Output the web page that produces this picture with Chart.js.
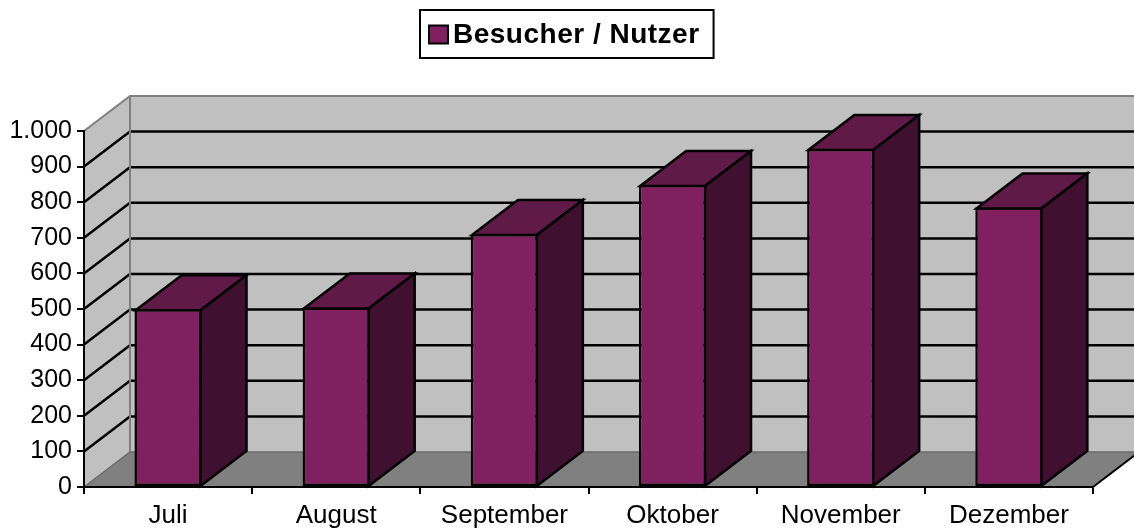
<!DOCTYPE html>
<html lang="de">
<head>
<meta charset="utf-8">
<title>Besucher / Nutzer</title>
<script src="https://cdn.jsdelivr.net/npm/chart.js@4/dist/chart.umd.min.js"></script>
<style>
  html, body { margin: 0; padding: 0; background: #fff; }
</style>
</head>
<body>
<canvas id="besucherChart" width="1134" height="531"></canvas>
<script>
const monate = ['Juli', 'August', 'September', 'Oktober', 'November', 'Dezember']
const besucher = [500, 505, 711, 849, 950, 786]
const serienName = 'Besucher / Nutzer'
const yMin = 0
const yMax = 1000
const yStep = 100

// 3D-Versatz der Rueckwand
const tiefeX = 46
const tiefeY = -35
const schrift = '"Liberation Sans", Arial, sans-serif'

const formatZahl = (v) => String(v).replace(/\B(?=(\d{3})+(?!\d))/g, '.')

const flaeche = (ctx, punkte, fill, stroke, lw) => {
  ctx.beginPath()
  punkte.forEach(([px, py], i) => i === 0 ? ctx.moveTo(px, py) : ctx.lineTo(px, py))
  ctx.closePath()
  if (fill) {
    ctx.fillStyle = fill
    ctx.fill()
  }
  if (stroke) {
    ctx.strokeStyle = stroke
    ctx.lineWidth = lw
    ctx.stroke()
  }
}

const linie = (ctx, punkte, farbe, lw) => {
  ctx.beginPath()
  punkte.forEach(([px, py], i) => i === 0 ? ctx.moveTo(px, py) : ctx.lineTo(px, py))
  ctx.strokeStyle = farbe
  ctx.lineWidth = lw
  ctx.stroke()
}

const waendePlugin = {
  id: 'waende',
  beforeDraw (chart) {
    const { ctx, chartArea: a, scales: { y } } = chart
    const dx = tiefeX
    const dy = tiefeY
    ctx.save()
    // Rueckwand und Seitenwand
    flaeche(ctx, [[a.left + dx, a.top + dy], [a.right + dx, a.top + dy], [a.right + dx, a.bottom + dy], [a.left + dx, a.bottom + dy]], '#c0c0c0')
    flaeche(ctx, [[a.left, a.bottom], [a.left, a.top], [a.left + dx, a.top + dy], [a.left + dx, a.bottom + dy]], '#c0c0c0')
    // Boden
    flaeche(ctx, [[a.left, a.bottom], [a.right, a.bottom], [a.right + dx, a.bottom + dy], [a.left + dx, a.bottom + dy]], '#808080')
    // Gitternetz
    y.ticks.forEach(t => {
      if (t.value === yMin || t.value === yMax) return
      const py = y.getPixelForValue(t.value)
      linie(ctx, [[a.left, py], [a.left + dx, py + dy], [a.right + dx, py + dy]], '#000', 2.5)
    })
    // Kanten
    linie(ctx, [[a.left, a.top], [a.left + dx, a.top + dy], [a.right + dx, a.top + dy]], '#808080', 2)
    linie(ctx, [[a.left + dx, a.top + dy], [a.left + dx, a.bottom + dy]], '#808080', 2)
    linie(ctx, [[a.left, a.bottom], [a.left + dx, a.bottom + dy], [a.right + dx, a.bottom + dy]], '#6a6a6a', 1.5)
    linie(ctx, [[a.right, a.bottom], [a.right + dx, a.bottom + dy]], '#000', 2)
    ctx.restore()
  }
}

const quaderPlugin = {
  id: 'quader',
  afterDatasetsDraw (chart) {
    const { ctx } = chart
    ctx.save()
    ctx.lineJoin = 'miter'
    chart.getDatasetMeta(0).data.forEach(bar => {
      const { x, y, base, width } = bar.getProps(['x', 'y', 'base', 'width'], true)
      const l = x - width / 2 + 1.2
      const r = x + width / 2 - 1.2
      const top = y + 1.2
      flaeche(ctx, [[l, top], [r, top], [r + tiefeX, top + tiefeY], [l + tiefeX, top + tiefeY]], '#601a48', '#000', 2.5)
      flaeche(ctx, [[r, top], [r + tiefeX, top + tiefeY], [r + tiefeX, base + tiefeY], [r, base]], '#401030', '#000', 2.5)
    })
    ctx.restore()
  }
}

const legendePlugin = {
  id: 'legende',
  afterDraw (chart) {
    const { ctx, width } = chart
    const ds = chart.data.datasets[0]
    ctx.save()
    ctx.font = 'bold 28px ' + schrift
    ctx.letterSpacing = '0.5px'
    const textBreite = ctx.measureText(ds.label).width
    const kasten = 19
    const gesamt = 9 + kasten + 5 + textBreite + 14
    const links = Math.round(width / 2 - gesamt / 2)
    const oben = 10
    const hoehe = 48
    const mitte = oben + hoehe / 2
    ctx.fillStyle = '#fff'
    ctx.fillRect(links, oben, gesamt, hoehe)
    ctx.strokeStyle = '#000'
    ctx.lineWidth = 2
    ctx.strokeRect(links, oben, gesamt, hoehe)
    ctx.fillStyle = ds.backgroundColor
    ctx.fillRect(links + 9, mitte - 8.5, kasten, kasten - 1)
    ctx.strokeRect(links + 9, mitte - 8.5, kasten, kasten - 1)
    ctx.fillStyle = '#000'
    ctx.textBaseline = 'middle'
    ctx.textAlign = 'left'
    ctx.fillText(ds.label, links + 9 + kasten + 5, mitte + 1)
    ctx.restore()
  }
}

const ctx = document.getElementById('besucherChart').getContext('2d')
new Chart(ctx, {
  type: 'bar',
  data: {
    labels: monate,
    datasets: [
      {
        label: serienName,
        data: besucher,
        backgroundColor: '#802060',
        borderColor: '#000',
        borderWidth: 2.5,
        borderSkipped: false,
        barPercentage: 0.4,
        categoryPercentage: 1
      }
    ]
  },
  options: {
    responsive: false,
    animation: false,
    layout: { padding: { top: 131, right: 41, bottom: 0, left: 0 } },
    plugins: {
      legend: { display: false },
      tooltip: { enabled: false }
    },
    scales: {
      x: {
        grid: { display: true, drawOnChartArea: false, drawTicks: true, tickLength: 7, color: '#000', lineWidth: 2, offset: true },
        border: { display: true, color: '#000', width: 2 },
        ticks: { color: '#000', font: { family: schrift, size: 26 }, padding: 6, maxRotation: 0 },
        afterFit: (s) => { s.height = 44 }
      },
      y: {
        min: yMin,
        max: yMax,
        grid: { display: true, drawOnChartArea: false, drawTicks: true, tickLength: 7, color: '#000', lineWidth: 2 },
        border: { display: true, color: '#000', width: 2 },
        ticks: { stepSize: yStep, color: '#000', font: { family: schrift, size: 25 }, padding: 5, callback: (v) => formatZahl(v) },
        afterFit: (s) => { s.width = 84 }
      }
    }
  },
  plugins: [waendePlugin, quaderPlugin, legendePlugin]
})
</script>
</body>
</html>
